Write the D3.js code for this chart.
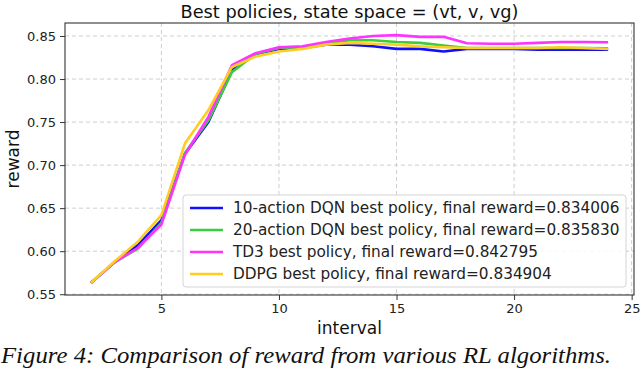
<!DOCTYPE html>
<html>
<head>
<meta charset="utf-8">
<script src="https://cdn.jsdelivr.net/npm/d3@7"></script>
<style>
  body { margin: 0; background: #fff; }
  svg { display: block; }
</style>
</head>
<body>
<div id="chart"></div>
<script>
const intervals = [2, 3, 4, 5, 6, 7, 8, 9, 10, 11, 12, 13, 14, 15, 16, 17, 18, 19, 20, 21, 22, 23, 24];
const dqn10 = [0.563, 0.587, 0.607, 0.636, 0.713, 0.750, 0.810, 0.829, 0.835, 0.836, 0.840, 0.840, 0.838, 0.835, 0.835, 0.832, 0.835, 0.835, 0.835, 0.834, 0.834, 0.834, 0.834006];
const dqn20 = [0.563, 0.587, 0.603, 0.633, 0.714, 0.752, 0.808, 0.829, 0.836, 0.837, 0.841, 0.845, 0.845, 0.843, 0.842, 0.839, 0.836, 0.836, 0.836, 0.836, 0.836, 0.836, 0.835830];
const td3 = [0.563, 0.587, 0.604, 0.631, 0.712, 0.756, 0.816, 0.830, 0.837, 0.838, 0.843, 0.847, 0.850, 0.851, 0.849, 0.849, 0.8415, 0.841, 0.841, 0.842, 0.843, 0.843, 0.842795];
const ddpg = [0.563, 0.588, 0.611, 0.642, 0.725, 0.764, 0.814, 0.826, 0.832, 0.835, 0.840, 0.842, 0.841, 0.840, 0.838, 0.837, 0.836, 0.836, 0.836, 0.836, 0.837, 0.836, 0.834904];
const seriesNames = [
  '10-action DQN best policy, final reward=0.834006',
  '20-action DQN best policy, final reward=0.835830',
  'TD3 best policy, final reward=0.842795',
  'DDPG best policy, final reward=0.834904'
];
const seriesColors = ['#1010ff', '#3ccc3c', '#ff33ff', '#ffcc22'];
const xTicks = [5, 10, 15, 20, 25];
const yTicks = [0.55, 0.60, 0.65, 0.70, 0.75, 0.80, 0.85];

const width = 640, height = 370;
const margin = {top: 23, right: 6, bottom: 75, left: 65};
const font = 'DejaVu Sans, sans-serif';

const svg = d3.select('#chart').append('svg')
  .attr('width', width)
  .attr('height', height)
  .style('font-family', font);

const x = d3.scaleLinear().domain([0.9, 25.1]).range([margin.left, width - margin.right]);
const y = d3.scaleLinear().domain([0.5491, 0.8651]).range([height - margin.bottom, margin.top]);

// grid
const grid = svg.append('g').attr('stroke', '#cfcfcf').attr('stroke-width', 1).attr('stroke-dasharray', '4,3');
grid.selectAll('.gx').data(xTicks).enter().append('line')
  .attr('x1', d => x(d)).attr('x2', d => x(d))
  .attr('y1', margin.top).attr('y2', height - margin.bottom);
grid.selectAll('.gy').data(yTicks).enter().append('line')
  .attr('x1', margin.left).attr('x2', width - margin.right)
  .attr('y1', d => y(d)).attr('y2', d => y(d));

// lines
const all = [dqn10, dqn20, td3, ddpg];
const line = d3.line().x((d, i) => x(intervals[i])).y(d => y(d));
svg.append('g').selectAll('path').data(all).enter().append('path')
  .attr('d', d => line(d))
  .attr('fill', 'none')
  .attr('stroke', (d, i) => seriesColors[i])
  .attr('stroke-width', 2.6)
  .attr('stroke-linejoin', 'round');

// axes
const xAxis = svg.append('g')
  .attr('transform', `translate(0,${height - margin.bottom})`)
  .call(d3.axisBottom(x).tickValues(xTicks).tickSize(5).tickPadding(4));
const yAxis = svg.append('g')
  .attr('transform', `translate(${margin.left},0)`)
  .call(d3.axisLeft(y).tickValues(yTicks).tickSize(5).tickPadding(4).tickFormat(d3.format('.2f')));
[xAxis, yAxis].forEach(a => {
  a.selectAll('text').style('font-family', font).style('font-size', '13px').attr('fill', '#222');
  a.selectAll('line').attr('stroke', '#333');
  a.select('.domain').remove();
});

// frame
svg.append('rect')
  .attr('x', margin.left).attr('y', margin.top)
  .attr('width', width - margin.right - margin.left)
  .attr('height', height - margin.bottom - margin.top)
  .attr('fill', 'none').attr('stroke', '#333').attr('stroke-width', 1.1);

// legend
const lg = svg.append('g').attr('transform', 'translate(183,195)');
lg.append('rect')
  .attr('width', 443).attr('height', 92)
  .attr('rx', 3)
  .attr('fill', 'rgba(255,255,255,0.85)')
  .attr('stroke', '#d5d5d5');
const item = lg.selectAll('.item').data(seriesNames).enter().append('g')
  .attr('transform', (d, i) => `translate(0,${13 + i * 22})`);
item.append('line')
  .attr('x1', 7).attr('x2', 40)
  .attr('stroke', (d, i) => seriesColors[i]).attr('stroke-width', 2.6);
item.append('text')
  .attr('x', 50).attr('dy', '0.35em')
  .style('font-size', '15.3px').attr('fill', '#222')
  .text(d => d);

// titles
svg.append('text')
  .attr('x', (margin.left + width - margin.right) / 2).attr('y', 18)
  .attr('text-anchor', 'middle').style('font-size', '17px').attr('fill', '#111')
  .attr('textLength', 338).attr('lengthAdjust', 'spacingAndGlyphs')
  .text('Best policies, state space = (vt, v, vg)');
svg.append('text')
  .attr('x', (margin.left + width - margin.right) / 2).attr('y', 334)
  .attr('text-anchor', 'middle').style('font-size', '17px').attr('fill', '#111')
  .text('interval');
svg.append('text')
  .attr('transform', `translate(19,${(margin.top + height - margin.bottom) / 2}) rotate(-90)`)
  .attr('text-anchor', 'middle').style('font-size', '17px').attr('fill', '#111')
  .text('reward');

// caption
svg.append('text')
  .attr('x', 1).attr('y', 363)
  .style('font-family', 'Liberation Serif, serif')
  .style('font-style', 'italic').style('font-size', '23px').attr('fill', '#111')
  .attr('textLength', 610).attr('lengthAdjust', 'spacingAndGlyphs')
  .text('Figure 4: Comparison of reward from various RL algorithms.');
</script>
</body>
</html>
